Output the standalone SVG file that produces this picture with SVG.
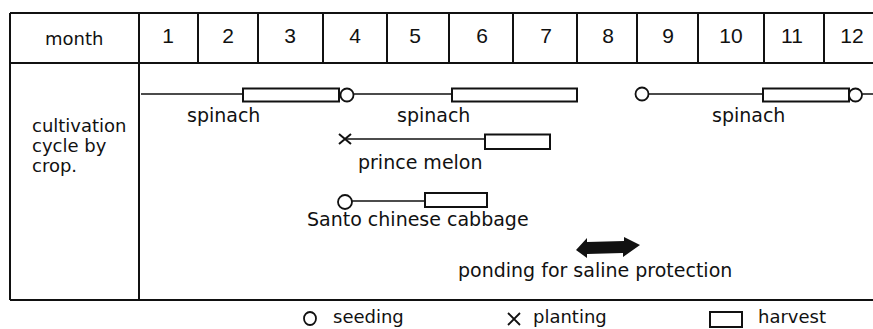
<svg xmlns="http://www.w3.org/2000/svg" width="873" height="329" viewBox="0 0 873 329">
<style>
.grid{stroke:#111;stroke-width:2;fill:none}
.ln{stroke:#111;stroke-width:1.4;fill:none}
.hv{stroke:#111;stroke-width:2;fill:#fff}
.sd{stroke:#111;stroke-width:1.8;fill:#fff}
.t{font-family:"DejaVu Sans",sans-serif;font-size:19px;fill:#111}
.s{font-family:"DejaVu Sans",sans-serif;font-size:18px;fill:#111}
.d{font-family:"Liberation Sans",Arial,sans-serif;font-size:21px;fill:#111;text-anchor:middle}
</style>
<rect width="873" height="329" fill="#fff"/>
<g id="table">
<path class="grid" d="M10 13H873M10 63H873M10 300H873M10 13V300M139 13V300M198 13V63M258 13V63M323 13V63M387 13V63M449 13V63M513 13V63M577 13V63M637 13V63M698 13V63M764 13V63M824 13V63"/>
<text class="s" x="45" y="45">month</text>
<text class="d" x="168" y="43">1</text>
<text class="d" x="228" y="43">2</text>
<text class="d" x="290" y="43">3</text>
<text class="d" x="355" y="43">4</text>
<text class="d" x="415" y="43">5</text>
<text class="d" x="482" y="43">6</text>
<text class="d" x="546" y="43">7</text>
<text class="d" x="608" y="43">8</text>
<text class="d" x="668" y="43">9</text>
<text class="d" x="731" y="43">10</text>
<text class="d" x="792" y="43">11</text>
<text class="d" x="852" y="43">12</text>
<text class="s" x="32" y="132">cultivation</text>
<text class="s" x="32" y="152">cycle by</text>
<text class="s" x="32" y="172">crop.</text>
</g>
<g id="connectors">
<path class="ln" d="M141 94H243M353.5 94H452M648.5 94H763M862 94H873"/>
<path class="ln" d="M345 139H485"/>
<path class="ln" d="M352 201H425"/>
</g>
<g id="spinach1">
<rect class="hv" x="243" y="88.5" width="96" height="13"/>
<circle class="sd" cx="347" cy="95" r="6.5"/>
<text class="t" x="187" y="122">spinach</text>
</g>
<g id="spinach2">
<rect class="hv" x="452" y="88.5" width="125" height="13"/>
<text class="t" x="397" y="122">spinach</text>
</g>
<g id="spinach3">
<circle class="sd" cx="642" cy="94" r="6.5"/>
<rect class="hv" x="763" y="88.5" width="86" height="13"/>
<circle class="sd" cx="855.5" cy="95" r="6.5"/>
<text class="t" x="712" y="122">spinach</text>
</g>
<g id="prince-melon">
<path class="grid" d="M339 134L351 144M339 144L351 134"/>
<rect class="hv" x="485" y="134.5" width="65" height="14.5"/>
<text class="t" x="358" y="169">prince melon</text>
</g>
<g id="santo-cabbage">
<circle class="sd" cx="345" cy="202" r="7"/>
<rect class="hv" x="425" y="193" width="62" height="14"/>
<text class="t" x="307" y="226">Santo chinese cabbage</text>
</g>
<g id="ponding">
<polygon fill="#111" points="576,250 587,238 587,242 624,241 624,237 640,245 623,257 623,253 587,254 587,258"/>
<text class="t" x="458" y="277">ponding for saline protection</text>
</g>
<g id="legend">
<ellipse class="sd" cx="310" cy="318.5" rx="6" ry="6.5"/>
<text class="s" x="333" y="323">seeding</text>
<path class="ln" d="M508 313L520 325M508 325L520 313" style="stroke-width:1.8"/>
<text class="s" x="533" y="323">planting</text>
<rect class="hv" x="710" y="312" width="32" height="15"/>
<text class="s" x="758" y="323">harvest</text>
</g>
</svg>
